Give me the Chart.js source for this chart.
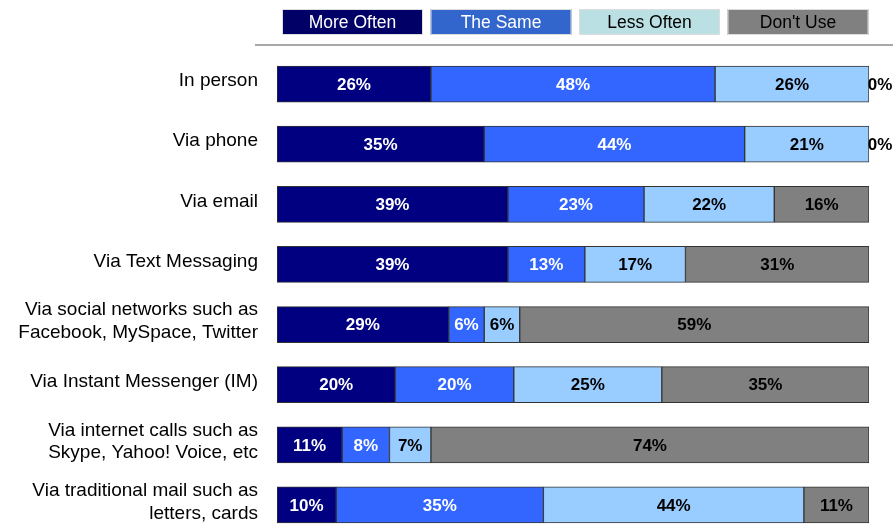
<!DOCTYPE html>
<html>
<head>
<meta charset="utf-8">
<script src="https://cdn.jsdelivr.net/npm/chart.js@4/dist/chart.umd.min.js"></script>
<style>
  html, body { margin: 0; padding: 0; background: #ffffff; overflow: hidden; }
  #wrap { width: 893px; height: 527px; overflow: hidden; }
  canvas { display: block; }
</style>
</head>
<body>
<div id="wrap"><canvas id="chart" width="893" height="535"></canvas></div>
<script>
// Communication channels and how often each is used
const categories = [
  "In person",
  "Via phone",
  "Via email",
  "Via Text Messaging",
  ["Via social networks such as", "Facebook, MySpace, Twitter"],
  "Via Instant Messenger (IM)",
  ["Via internet calls such as", "Skype, Yahoo! Voice, etc"],
  ["Via traditional mail such as", "letters, cards"]
];
const seriesNames = ["More Often", "The Same", "Less Often", "Don't Use"];
const moreOften = [26, 35, 39, 39, 29, 20, 11, 10];
const theSame   = [48, 44, 23, 13, 6, 20, 8, 35];
const lessOften = [26, 21, 22, 17, 6, 25, 7, 44];
const dontUse   = [0, 0, 16, 31, 59, 35, 74, 11];

const barColors    = ["#000080", "#3366FF", "#99CCFF", "#808080"];
const legendColors = ["#000066", "#3366CC", "#BBE0E3", "#808080"];
const labelColors  = ["#FFFFFF", "#FFFFFF", "#000000", "#000000"];
const FONT = "'Liberation Sans', Arial, sans-serif";

const seriesValues = [moreOften, theSame, lessOften, dontUse];

// Percent labels centred on each segment
const segmentLabels = {
  id: "segmentLabels",
  afterDatasetsDraw(chart) {
    const ctx = chart.ctx;
    ctx.save();
    ctx.font = "bold 17px " + FONT;
    ctx.textAlign = "center";
    ctx.textBaseline = "middle";
    chart.data.datasets.forEach((ds, di) => {
      const meta = chart.getDatasetMeta(di);
      meta.data.forEach((el, i) => {
        const v = ds.data[i];
        let cx = (el.x + el.base) / 2;
        if (v === 0) cx += 11;
        ctx.fillStyle = labelColors[di];
        ctx.fillText(v + "%", cx, el.y + 1);
      });
    });
    ctx.restore();
  }
};

// Boxed legend above the bars with a rule underneath
const boxedLegend = {
  id: "boxedLegend",
  afterDraw(chart) {
    const ctx = chart.ctx;
    ctx.save();
    const boxW = 141, boxH = 26, step = 148.5, x0 = 282, y0 = 9;
    chart.data.datasets.forEach((ds, i) => {
      const x = x0 + i * step;
      ctx.fillStyle = legendColors[i];
      ctx.fillRect(x, y0, boxW, boxH);
      ctx.strokeStyle = "#DDDDDD";
      ctx.lineWidth = 1;
      ctx.strokeRect(x + 0.5, y0 + 0.5, boxW - 1, boxH - 1);
      ctx.fillStyle = labelColors[i];
      ctx.font = "17.5px " + FONT;
      ctx.textAlign = "center";
      ctx.textBaseline = "middle";
      ctx.fillText(ds.label, x + boxW / 2, y0 + boxH / 2 + 1);
    });
    ctx.strokeStyle = "#A8A8A8";
    ctx.lineWidth = 2;
    ctx.beginPath();
    ctx.moveTo(255, 45);
    ctx.lineTo(893, 45);
    ctx.stroke();
    ctx.restore();
  }
};

new Chart(document.getElementById("chart"), {
  type: "bar",
  data: {
    labels: categories,
    datasets: seriesNames.map((name, i) => ({
      label: name,
      data: seriesValues[i],
      backgroundColor: barColors[i],
      borderColor: "#333333",
      borderWidth: 1,
      borderSkipped: false,
      barThickness: 36
    }))
  },
  options: {
    indexAxis: "y",
    responsive: false,
    animation: false,
    devicePixelRatio: 1,
    layout: { padding: { top: 54, right: 24, bottom: 0, left: 0 } },
    plugins: {
      legend: { display: false },
      tooltip: { enabled: false },
      title: { display: false }
    },
    scales: {
      x: {
        stacked: true,
        min: 0,
        max: 100,
        display: false
      },
      y: {
        stacked: true,
        grid: { display: false, drawTicks: false },
        border: { display: false },
        ticks: {
          color: "#000000",
          padding: 19,
          labelOffset: -3,
          font: { family: FONT, size: 19, lineHeight: 1.2 }
        },
        afterFit(scale) {
          scale.width = 277;
          scale.paddingTop = 0;
          scale.paddingBottom = 0;
        }
      }
    }
  },
  plugins: [segmentLabels, boxedLegend]
});
</script>
</body>
</html>
